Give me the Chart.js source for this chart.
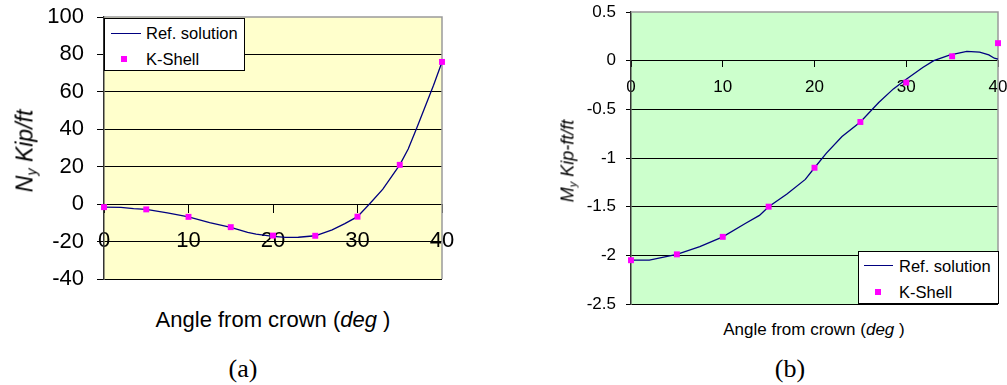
<!DOCTYPE html>
<html>
<head>
<meta charset="utf-8">
<script src="https://cdn.jsdelivr.net/npm/chart.js@4.4.0/dist/chart.umd.min.js"></script>
<style>
html,body{margin:0;padding:0;background:#fff;}
body{width:1007px;height:385px;overflow:hidden;position:relative;font-family:"Liberation Sans",Arial,sans-serif;color:#000;}
canvas{position:absolute;top:0;}
#ca{left:0;}
#cb{left:530px;}
.t{position:absolute;white-space:nowrap;transform:translate(-50%,-50%);}
.rot{transform:translate(-50%,-50%) rotate(-90deg);font-style:italic;}
.sub{font-size:0.62em;position:relative;top:0.3em;}
.cap{font-family:"Liberation Serif","Times New Roman",serif;font-size:26px;}
.leg{position:absolute;box-sizing:border-box;border:1px solid #000;background:#fff;}
.lt{position:absolute;font-size:16.5px;line-height:20px;white-space:nowrap;}
.ll{position:absolute;height:1.3px;background:#000080;}
.lm{position:absolute;width:6px;height:6px;background:#ff00ff;}
</style>
</head>
<body>
<canvas id="ca" width="460" height="300" style="width:460px;height:300px"></canvas>
<canvas id="cb" width="477" height="320" style="width:477px;height:320px"></canvas>

<div class="t rot" style="left:25px;top:151px;font-size:23px;">N<span class="sub">y</span> Kip/ft</div>
<div class="t" style="left:273px;top:320px;font-size:22px;">Angle from crown (<i>deg</i> )</div>
<div class="t cap" style="left:243px;top:369px;">(a)</div>

<div class="t rot" style="left:568px;top:161px;font-size:18px;">M<span class="sub">y</span> Kip-ft/ft</div>
<div class="t" style="left:814px;top:330px;font-size:17px;">Angle from crown (<i>deg</i> )</div>
<div class="t cap" style="left:790px;top:369px;">(b)</div>

<div class="leg" style="left:104px;top:18px;width:141px;height:53px;"></div>
<div class="ll" style="left:111px;top:33px;width:30px;"></div>
<div class="lt" style="left:146px;top:23px;">Ref. solution</div>
<div class="lm" style="left:121px;top:56px;"></div>
<div class="lt" style="left:146px;top:49px;">K-Shell</div>

<div class="leg" style="left:858px;top:251px;width:141px;height:53px;"></div>
<div class="ll" style="left:864px;top:265px;width:29px;"></div>
<div class="lt" style="left:899px;top:256px;">Ref. solution</div>
<div class="lm" style="left:875px;top:289px;"></div>
<div class="lt" style="left:899px;top:282px;">K-Shell</div>

<script>
// ---------- data ----------
const angleTicks = [0, 10, 20, 30, 40];
const kShellAngles = [0, 5, 10, 15, 20, 25, 30, 35, 40];

// (a) Ny
const nyTicks = [-40, -20, 0, 20, 40, 60, 80, 100];
const kShellNy = [-1.6, -2.8, -6.8, -12.3, -16.8, -16.9, -6.7, 21.0, 76.0];
const refAnglesA = [0, 2, 3.5, 5, 7.5, 10, 12.5, 15, 17, 18, 20, 21.5, 23, 25, 27, 28.5, 30, 31.5, 33, 35, 36, 37, 38, 39, 40];
const refNy = [-1.6, -1.7, -2.4, -2.8, -4.7, -6.8, -9.9, -12.4, -15.1, -16.0, -17.2, -17.8, -17.7, -16.9, -13.7, -10.4, -6.7, 0.5, 8.0, 21.0, 29.5, 40.5, 52.0, 63.5, 76.0];

// (b) My
const myTicks = [-2.5, -2, -1.5, -1, -0.5, 0, 0.5];
const kShellMy = [-2.05, -1.99, -1.81, -1.50, -1.10, -0.63, -0.225, 0.045, 0.18];
const refAnglesB = [0, 2, 5, 7.5, 10, 12.5, 14, 15, 17, 19, 20, 21.3, 23, 25, 27, 28.6, 30, 31.8, 33, 34.7, 36.6, 38, 39, 39.6, 40];
const refMy = [-2.05, -2.05, -1.99, -1.91, -1.81, -1.67, -1.59, -1.50, -1.37, -1.22, -1.10, -0.95, -0.78, -0.63, -0.43, -0.29, -0.19, -0.07, 0.0, 0.058, 0.095, 0.087, 0.06, 0.025, 0.017];

// ---------- helpers ----------
const pairs = (xs, ys) => xs.map((x, i) => ({x: x, y: ys[i]}));
Chart.defaults.font.family = '"Liberation Sans", Arial, sans-serif';
Chart.defaults.color = '#000';

const framePlugin = {
  id: 'frame',
  beforeDraw(chart, args, opts) {
    const {ctx, chartArea: a} = chart;
    ctx.save();
    ctx.fillStyle = opts.bg;
    ctx.fillRect(a.left, a.top, a.right - a.left, a.bottom - a.top);
    ctx.restore();
  },
  beforeDatasetsDraw(chart, args, opts) {
    const {ctx, chartArea: a} = chart;
    ctx.save();
    ctx.strokeStyle = '#9a9a9a';
    ctx.lineWidth = 1.5;
    ctx.beginPath();
    ctx.moveTo(a.left, a.top);
    ctx.lineTo(a.right, a.top);
    ctx.lineTo(a.right, a.bottom);
    ctx.stroke();
    ctx.restore();
  }
};

function makeChart(id, cfg) {
  const yMax = cfg.yTicks[cfg.yTicks.length - 1];
  return new Chart(document.getElementById(id), {
    type: 'scatter',
    data: {
      datasets: [
        {
          label: 'K-Shell',
          data: pairs(kShellAngles, cfg.kVals),
          showLine: false,
          pointStyle: 'rect',
          pointRadius: 4.2,
          pointBackgroundColor: '#ff00ff',
          pointBorderWidth: 0,
          clip: false
        },
        {
          label: 'Ref. solution',
          data: pairs(cfg.refX, cfg.refY),
          showLine: true,
          pointRadius: 0,
          borderColor: '#000080',
          borderWidth: 1.3,
          tension: 0,
          clip: false
        }
      ]
    },
    options: {
      responsive: false,
      animation: false,
      events: [],
      layout: {padding: cfg.padding},
      plugins: {
        legend: {display: false},
        tooltip: {enabled: false},
        frame: {bg: cfg.bg}
      },
      scales: {
        x: {
          type: 'linear',
          position: {y: 0},
          min: 0, max: 40,
          z: 1,
          afterBuildTicks: s => { s.ticks = angleTicks.map(v => ({value: v})); },
          afterFit: s => { s.height = 0; s.paddingLeft = 0; s.paddingRight = 0; },
          grid: {display: true, drawOnChartArea: false, drawTicks: true, tickLength: cfg.xTickLen, tickColor: '#000', lineWidth: 1},
          border: {display: true, color: '#000', width: 1},
          ticks: {padding: cfg.xPad, font: {size: cfg.font}, color: '#000', maxRotation: 0, autoSkip: false, callback: v => String(v)}
        },
        y: {
          type: 'linear',
          position: 'left',
          min: cfg.yTicks[0], max: yMax,
          afterBuildTicks: s => { s.ticks = cfg.yTicks.map(v => ({value: v})); },
          afterFit: s => { s.width = cfg.yWidth; s.paddingTop = 0; s.paddingBottom = 0; },
          grid: {
            color: c => (c.tick && c.tick.value === yMax) ? 'rgba(0,0,0,0)' : '#000',
            tickColor: '#000', tickLength: cfg.yTickLen, lineWidth: 1
          },
          border: {display: true, color: '#333', width: 1.5},
          ticks: {padding: cfg.yPad, font: {size: cfg.font}, color: '#000', autoSkip: false, callback: v => String(v)}
        }
      }
    },
    plugins: [framePlugin]
  });
}

makeChart('ca', {
  kVals: kShellNy, refX: refAnglesA, refY: refNy, yTicks: nyTicks,
  bg: '#ffffcc', padding: {left: 0, top: 17, right: 18, bottom: 21},
  yWidth: 104, font: 22, xTickLen: 8, xPad: 16, yTickLen: 7, yPad: 13
});

makeChart('cb', {
  kVals: kShellMy, refX: refAnglesB, refY: refMy, yTicks: myTicks,
  bg: '#ccffcc', padding: {left: 0, top: 12, right: 9, bottom: 16},
  yWidth: 101, font: 17, xTickLen: 6, xPad: 10, yTickLen: 5, yPad: 10
});
</script>
</body>
</html>
